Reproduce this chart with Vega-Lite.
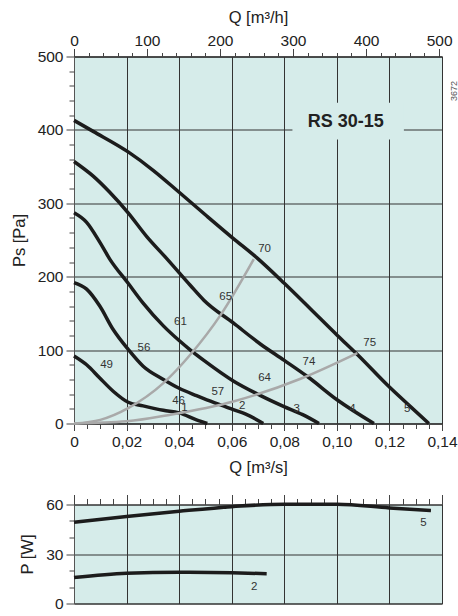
{
  "$schema": "https://vega.github.io/schema/vega-lite/v6.json",
  "padding": {"left": 10, "top": 8.5, "right": 0, "bottom": 0},
  "spacing": 17,
  "config": {
    "view": {"fill": "#d6ecea", "stroke": "#333333", "strokeWidth": 1},
    "font": "Liberation Sans",
    "axis": {
      "labelFont": "Liberation Sans", "labelFontSize": 15.5, "labelColor": "#222222",
      "titleFont": "Liberation Sans", "titleFontSize": 16.5, "titleFontWeight": "normal", "titleColor": "#222222",
      "tickColor": "#444444", "domainColor": "#555555", "gridColor": "#333333", "gridOpacity": 1, "gridWidth": 1,
      "labelFlush": false, "labelOverlap": false
    }
  },
  "datasets": {
    "fan": [
      {"c": "1", "Q": 0, "P": 92}, {"c": "1", "Q": 0.0048, "P": 80}, {"c": "1", "Q": 0.0098, "P": 62}, {"c": "1", "Q": 0.0149, "P": 44}, {"c": "1", "Q": 0.0206, "P": 29}, {"c": "1", "Q": 0.0263, "P": 24}, {"c": "1", "Q": 0.034, "P": 18}, {"c": "1", "Q": 0.04, "P": 14.5}, {"c": "1", "Q": 0.0466, "P": 5}, {"c": "1", "Q": 0.0507, "P": 0},
      {"c": "2", "Q": 0, "P": 192}, {"c": "2", "Q": 0.0048, "P": 183}, {"c": "2", "Q": 0.0098, "P": 160}, {"c": "2", "Q": 0.0149, "P": 128}, {"c": "2", "Q": 0.0206, "P": 101}, {"c": "2", "Q": 0.0263, "P": 78}, {"c": "2", "Q": 0.034, "P": 60}, {"c": "2", "Q": 0.04, "P": 48}, {"c": "2", "Q": 0.0466, "P": 38}, {"c": "2", "Q": 0.0494, "P": 34}, {"c": "2", "Q": 0.0606, "P": 19}, {"c": "2", "Q": 0.067, "P": 10}, {"c": "2", "Q": 0.072, "P": 0},
      {"c": "3", "Q": 0, "P": 287}, {"c": "3", "Q": 0.0048, "P": 274}, {"c": "3", "Q": 0.0098, "P": 247}, {"c": "3", "Q": 0.0136, "P": 224}, {"c": "3", "Q": 0.0206, "P": 191}, {"c": "3", "Q": 0.0263, "P": 164}, {"c": "3", "Q": 0.034, "P": 133}, {"c": "3", "Q": 0.04, "P": 113}, {"c": "3", "Q": 0.0443, "P": 100}, {"c": "3", "Q": 0.0494, "P": 86}, {"c": "3", "Q": 0.0606, "P": 58}, {"c": "3", "Q": 0.071, "P": 38}, {"c": "3", "Q": 0.0799, "P": 23}, {"c": "3", "Q": 0.087, "P": 12}, {"c": "3", "Q": 0.0932, "P": 0},
      {"c": "4", "Q": 0, "P": 357}, {"c": "4", "Q": 0.0073, "P": 337}, {"c": "4", "Q": 0.0136, "P": 315}, {"c": "4", "Q": 0.0206, "P": 287}, {"c": "4", "Q": 0.0276, "P": 255}, {"c": "4", "Q": 0.0352, "P": 225}, {"c": "4", "Q": 0.0443, "P": 188}, {"c": "4", "Q": 0.0494, "P": 168}, {"c": "4", "Q": 0.0606, "P": 137}, {"c": "4", "Q": 0.071, "P": 108}, {"c": "4", "Q": 0.08, "P": 86}, {"c": "4", "Q": 0.0888, "P": 64}, {"c": "4", "Q": 0.1002, "P": 32}, {"c": "4", "Q": 0.1141, "P": 0},
      {"c": "5", "Q": 0, "P": 413}, {"c": "5", "Q": 0.0073, "P": 398}, {"c": "5", "Q": 0.0206, "P": 370}, {"c": "5", "Q": 0.0301, "P": 345}, {"c": "5", "Q": 0.04, "P": 315}, {"c": "5", "Q": 0.0504, "P": 283}, {"c": "5", "Q": 0.0603, "P": 253}, {"c": "5", "Q": 0.0695, "P": 226}, {"c": "5", "Q": 0.08, "P": 191}, {"c": "5", "Q": 0.09, "P": 156}, {"c": "5", "Q": 0.1002, "P": 120}, {"c": "5", "Q": 0.1078, "P": 94}, {"c": "5", "Q": 0.1196, "P": 51}, {"c": "5", "Q": 0.128, "P": 23}, {"c": "5", "Q": 0.135, "P": 0}
    ],
    "sys": [
      {"s": "a", "Q": 0, "P": 0}, {"s": "a", "Q": 0.01, "P": 5}, {"s": "a", "Q": 0.0206, "P": 21}, {"s": "a", "Q": 0.034, "P": 55}, {"s": "a", "Q": 0.0443, "P": 94}, {"s": "a", "Q": 0.0558, "P": 148}, {"s": "a", "Q": 0.0684, "P": 224},
      {"s": "b", "Q": 0, "P": 0}, {"s": "b", "Q": 0.02, "P": 3}, {"s": "b", "Q": 0.0367, "P": 12}, {"s": "b", "Q": 0.0606, "P": 30}, {"s": "b", "Q": 0.0862, "P": 61}, {"s": "b", "Q": 0.1078, "P": 96}
    ],
    "lbl": [
      {"Q": 0.0725, "P": 238, "t": "70"}, {"Q": 0.0577, "P": 172, "t": "65"}, {"Q": 0.0405, "P": 138, "t": "61"}, {"Q": 0.0266, "P": 103, "t": "56"}, {"Q": 0.0124, "P": 80, "t": "49"},
      {"Q": 0.0398, "P": 30, "t": "46"}, {"Q": 0.042, "P": 21, "t": "1"}, {"Q": 0.0547, "P": 43, "t": "57"}, {"Q": 0.064, "P": 24, "t": "2"}, {"Q": 0.0725, "P": 62, "t": "64"},
      {"Q": 0.0847, "P": 20, "t": "3"}, {"Q": 0.0894, "P": 84, "t": "74"}, {"Q": 0.1059, "P": 20, "t": "4"}, {"Q": 0.1125, "P": 109, "t": "75"}, {"Q": 0.1268, "P": 20, "t": "5"}
    ],
    "box": [{"Q": 0.0831, "Q2": 0.1255, "P": 387, "P2": 437, "Qc": 0.1034, "Pc": 411, "t": "RS 30-15"}],
    "code": [{"Q": 0.1447, "P": 453, "t": "3672"}],
    "power": [
      {"c": "5", "Q": 0, "P": 49.3}, {"c": "5", "Q": 0.02, "P": 52.7}, {"c": "5", "Q": 0.04, "P": 55.9}, {"c": "5", "Q": 0.06, "P": 58.7}, {"c": "5", "Q": 0.08, "P": 60.2}, {"c": "5", "Q": 0.1, "P": 60.2}, {"c": "5", "Q": 0.12, "P": 57.9}, {"c": "5", "Q": 0.1358, "P": 56.3},
      {"c": "2", "Q": 0, "P": 15.7}, {"c": "2", "Q": 0.02, "P": 18.3}, {"c": "2", "Q": 0.04, "P": 18.9}, {"c": "2", "Q": 0.06, "P": 18.6}, {"c": "2", "Q": 0.0733, "P": 18.1}
    ],
    "plbl": [{"Q": 0.1329, "P": 48.9, "t": "5"}, {"Q": 0.0686, "P": 9.7, "t": "2"}]
  },
  "vconcat": [
    {
      "width": 368,
      "height": 367,
      "resolve": {"axis": {"x": "independent", "y": "independent"}},
      "layer": [
        {
          "data": {"name": "fan"},
          "mark": {"type": "line", "interpolate": "monotone", "color": "#1c1c1c", "strokeWidth": 3.5},
          "encoding": {
            "x": {"field": "Q", "type": "quantitative", "scale": {"domain": [0, 0.14], "nice": false},
              "axis": {"orient": "bottom", "values": [0, 0.02, 0.04, 0.06, 0.08, 0.1, 0.12, 0.14], "grid": true, "tickSize": 7, "labelPadding": 4, "title": "Q [m³/s]", "titlePadding": 9,
                "labelExpr": "datum.value == 0 ? '0' : replace(format(datum.value, '.2f'), '.', ',')", "domainColor": "#333333"}},
            "y": {"field": "P", "type": "quantitative", "scale": {"domain": [0, 500], "nice": false},
              "axis": {"orient": "left", "values": [0, 100, 200, 300, 400, 500], "grid": true, "tickSize": 8, "labelPadding": 3, "title": "Ps [Pa]", "titlePadding": 10}},
            "detail": {"field": "c"}
          }
        },
        {
          "data": {"name": "fan"},
          "mark": {"type": "point", "opacity": 0},
          "encoding": {
            "x": {"field": "Q", "type": "quantitative", "scale": {"domain": [0, 0.14], "nice": false},
              "axis": {"orient": "bottom", "values": [0.005, 0.01, 0.015, 0.025, 0.03, 0.035, 0.045, 0.05, 0.055, 0.065, 0.07, 0.075, 0.085, 0.09, 0.095, 0.105, 0.11, 0.115, 0.125, 0.13, 0.135], "grid": false, "labels": false, "domain": false, "tickSize": 5, "title": null}},
            "y": {"field": "P", "type": "quantitative", "scale": {"domain": [0, 500], "nice": false},
              "axis": {"orient": "left", "values": [20, 40, 60, 80, 120, 140, 160, 180, 220, 240, 260, 280, 320, 340, 360, 380, 420, 440, 460, 480], "grid": false, "labels": false, "domain": false, "tickSize": 5, "title": null}}
          }
        },
        {
          "data": {"name": "fan"},
          "mark": {"type": "point", "opacity": 0},
          "encoding": {
            "x": {"field": "Q", "type": "quantitative", "scale": {"domain": [0, 0.14], "nice": false},
              "axis": {"orient": "top", "values": [0, 0.0277778, 0.0555556, 0.0833333, 0.1111111, 0.1388889], "grid": false, "tickSize": 8, "labelPadding": 0, "title": "Q [m³/h]", "titlePadding": 8.5,
                "labelExpr": "format(datum.value * 3600, '.0f')", "domainColor": "#333333"}},
            "y": {"field": "P", "type": "quantitative", "scale": {"domain": [0, 500], "nice": false}, "axis": null}
          }
        },
        {
          "data": {"name": "fan"},
          "mark": {"type": "point", "opacity": 0},
          "encoding": {
            "x": {"field": "Q", "type": "quantitative", "scale": {"domain": [0, 0.14], "nice": false},
              "axis": {"orient": "top", "values": [0.0055556, 0.0111111, 0.0166667, 0.0222222, 0.0333333, 0.0388889, 0.0444444, 0.05, 0.0611111, 0.0666667, 0.0722222, 0.0777778, 0.0888889, 0.0944444, 0.1, 0.1055556, 0.1166667, 0.1222222, 0.1277778, 0.1333333], "grid": false, "labels": false, "domain": false, "tickSize": 4, "title": null}},
            "y": {"field": "P", "type": "quantitative", "scale": {"domain": [0, 500], "nice": false}, "axis": null}
          }
        },
        {
          "data": {"name": "sys"},
          "mark": {"type": "line", "interpolate": "monotone", "color": "#a9a9a9", "strokeWidth": 2.5},
          "encoding": {
            "x": {"field": "Q", "type": "quantitative", "scale": {"domain": [0, 0.14], "nice": false}, "axis": null},
            "y": {"field": "P", "type": "quantitative", "scale": {"domain": [0, 500], "nice": false}, "axis": null},
            "detail": {"field": "s"}
          }
        },
        {
          "data": {"name": "lbl"},
          "mark": {"type": "text", "fontSize": 11.5, "color": "#333333", "align": "center", "baseline": "middle"},
          "encoding": {
            "x": {"field": "Q", "type": "quantitative", "scale": {"domain": [0, 0.14], "nice": false}, "axis": null},
            "y": {"field": "P", "type": "quantitative", "scale": {"domain": [0, 500], "nice": false}, "axis": null},
            "text": {"field": "t"}
          }
        },
        {
          "data": {"name": "box"},
          "mark": {"type": "rect", "color": "#d6ecea"},
          "encoding": {
            "x": {"field": "Q", "type": "quantitative", "scale": {"domain": [0, 0.14], "nice": false}, "axis": null},
            "x2": {"field": "Q2"},
            "y": {"field": "P", "type": "quantitative", "scale": {"domain": [0, 500], "nice": false}, "axis": null},
            "y2": {"field": "P2"}
          }
        },
        {
          "data": {"name": "box"},
          "mark": {"type": "text", "fontSize": 18, "fontWeight": "bold", "color": "#222222", "align": "center", "baseline": "middle"},
          "encoding": {
            "x": {"field": "Qc", "type": "quantitative", "scale": {"domain": [0, 0.14], "nice": false}, "axis": null},
            "y": {"field": "Pc", "type": "quantitative", "scale": {"domain": [0, 500], "nice": false}, "axis": null},
            "text": {"field": "t"}
          }
        },
        {
          "data": {"name": "code"},
          "mark": {"type": "text", "fontSize": 9, "color": "#555555", "align": "center", "baseline": "middle", "angle": 270},
          "encoding": {
            "x": {"field": "Q", "type": "quantitative", "scale": {"domain": [0, 0.14], "nice": false}, "axis": null},
            "y": {"field": "P", "type": "quantitative", "scale": {"domain": [0, 500], "nice": false}, "axis": null},
            "text": {"field": "t"}
          }
        }
      ]
    },
    {
      "width": 368,
      "height": 99,
      "resolve": {"axis": {"x": "independent", "y": "independent"}},
      "layer": [
        {
          "data": {"name": "power"},
          "mark": {"type": "line", "interpolate": "monotone", "color": "#1c1c1c", "strokeWidth": 3.5},
          "encoding": {
            "x": {"field": "Q", "type": "quantitative", "scale": {"domain": [0, 0.14], "nice": false},
              "axis": {"orient": "top", "values": [0, 0.02, 0.04, 0.06, 0.08, 0.1, 0.12, 0.14], "grid": true, "labels": false, "domain": false, "tickSize": 10, "title": null}},
            "y": {"field": "P", "type": "quantitative", "scale": {"domain": [0, 60], "nice": false},
              "axis": {"orient": "left", "values": [0, 30, 60], "grid": true, "tickSize": 8, "labelPadding": 3, "title": "P [W]", "titlePadding": 10}},
            "detail": {"field": "c"}
          }
        },
        {
          "data": {"name": "power"},
          "mark": {"type": "point", "opacity": 0},
          "encoding": {
            "x": {"field": "Q", "type": "quantitative", "scale": {"domain": [0, 0.14], "nice": false},
              "axis": {"orient": "top", "values": [0.005, 0.01, 0.015, 0.025, 0.03, 0.035, 0.045, 0.05, 0.055, 0.065, 0.07, 0.075, 0.085, 0.09, 0.095, 0.105, 0.11, 0.115, 0.125, 0.13, 0.135], "grid": false, "labels": false, "domain": false, "tickSize": 6, "title": null}},
            "y": {"field": "P", "type": "quantitative", "scale": {"domain": [0, 60], "nice": false},
              "axis": {"orient": "left", "values": [10, 20, 40, 50], "grid": false, "labels": false, "domain": false, "tickSize": 5, "title": null}}
          }
        },
        {
          "data": {"name": "plbl"},
          "mark": {"type": "text", "fontSize": 11.5, "color": "#333333", "align": "center", "baseline": "middle"},
          "encoding": {
            "x": {"field": "Q", "type": "quantitative", "scale": {"domain": [0, 0.14], "nice": false}, "axis": null},
            "y": {"field": "P", "type": "quantitative", "scale": {"domain": [0, 60], "nice": false}, "axis": null},
            "text": {"field": "t"}
          }
        }
      ]
    }
  ]
}
